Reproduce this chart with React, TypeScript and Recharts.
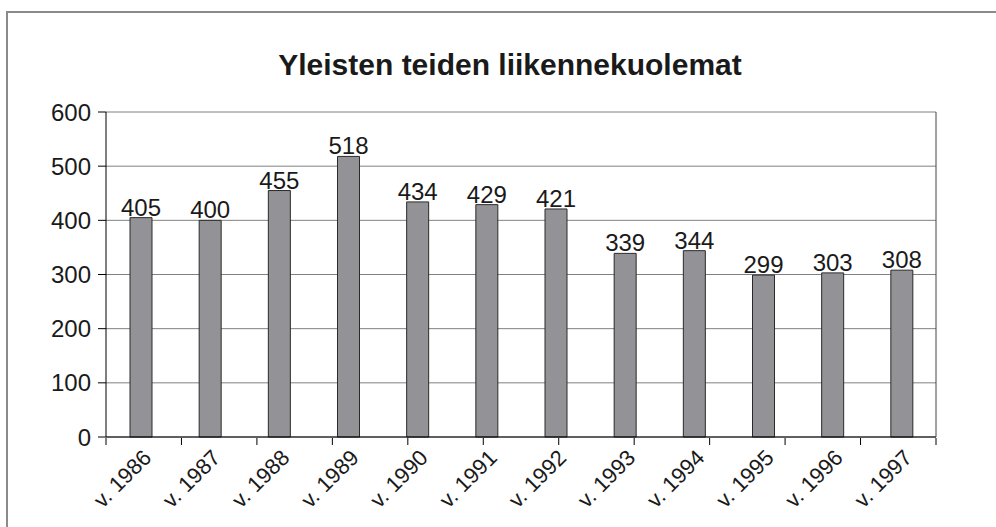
import React from 'react';
import { BarChart, Bar, XAxis, YAxis, CartesianGrid, LabelList } from 'recharts';

const years = ['v. 1986', 'v. 1987', 'v. 1988', 'v. 1989', 'v. 1990', 'v. 1991', 'v. 1992', 'v. 1993', 'v. 1994', 'v. 1995', 'v. 1996', 'v. 1997'];
const deaths = [405, 400, 455, 518, 434, 429, 421, 339, 344, 299, 303, 308];
const yTicks = [0, 100, 200, 300, 400, 500, 600];
const edgeTicks = [0, 1, 2, 3, 4, 5, 6, 7, 8, 9, 10, 11, 12];
const title = 'Yleisten teiden liikennekuolemat';

const data = years.map((y, i) => ({ year: y, value: deaths[i] }));

const FONT = '"Liberation Sans", Arial, sans-serif';

const XTick = (props: any) => {
  const { x, y, payload } = props;
  return (
    <g transform={`translate(${x},${y})`}>
      <text
        x={12}
        y={22}
        textAnchor="end"
        transform="rotate(-45 12 22)"
        fontSize={22}
        fontFamily={FONT}
        fill="#1a1a1a"
      >
        {payload.value}
      </text>
    </g>
  );
};

const EmptyTick = () => <g />;

export default function App() {
  return (
    <div style={{ position: 'fixed', left: 0, top: 0, width: 996, height: 527, background: '#fff', overflow: 'hidden' }}>
      <div
        style={{
          position: 'absolute',
          left: 6,
          top: 11,
          width: 1100,
          height: 700,
          borderLeft: '2px solid #8a8a8a',
          borderTop: '2px solid #8a8a8a',
        }}
      />
      <div
        style={{
          position: 'absolute',
          left: 160,
          top: 50,
          width: 700,
          textAlign: 'center',
          fontFamily: FONT,
          fontWeight: 'bold',
          fontSize: 30,
          lineHeight: '30px',
          color: '#1a1a1a',
          whiteSpace: 'nowrap',
        }}
      >
        {title}
      </div>
      <div style={{ position: 'absolute', left: 0, top: 0 }}>
        <BarChart width={996} height={527} data={data} margin={{ top: 112, right: 59, bottom: 88, left: 0 }}>
          <CartesianGrid vertical={false} stroke="#808080" strokeWidth={1} />
          <XAxis
            dataKey="year"
            height={1}
            interval={0}
            tickSize={0}
            tickMargin={0}
            tickLine={false}
            stroke="#000"
            tick={XTick}
          />
          <XAxis
            xAxisId="edges"
            type="number"
            domain={[0, 12]}
            ticks={edgeTicks}
            allowDataOverflow
            interval={0}
            height={1}
            axisLine={false}
            tickSize={7}
            stroke="#000"
            tick={EmptyTick}
          />
          <YAxis
            width={106}
            domain={[0, 600]}
            ticks={yTicks}
            interval={0}
            tickSize={8}
            tickMargin={7}
            stroke="#000"
            tick={{ fontSize: 24, fontFamily: FONT, fill: '#1a1a1a' }}
          />
          <YAxis
            yAxisId="right"
            orientation="right"
            width={1}
            domain={[0, 600]}
            tick={false}
            tickLine={false}
            stroke="#444"
          />
          <Bar dataKey="value" barSize={22} fill="#939397" stroke="#2a2a2a" strokeWidth={1} isAnimationActive={false}>
            <LabelList
              dataKey="value"
              position="top"
              offset={2}
              fontSize={24}
              fontFamily={FONT}
              fill="#1a1a1a"
            />
          </Bar>
        </BarChart>
      </div>
    </div>
  );
}
